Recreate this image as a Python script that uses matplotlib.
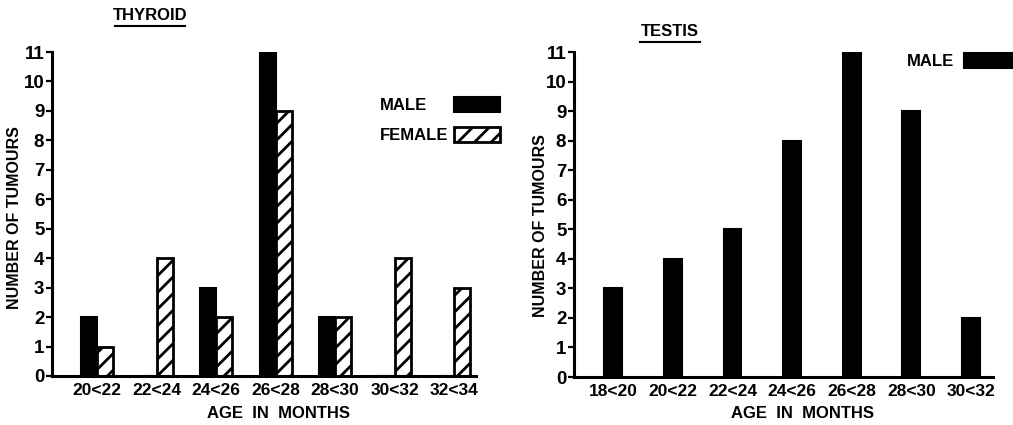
import matplotlib
matplotlib.use("Agg")
import matplotlib.pyplot as plt
from matplotlib.patches import Rectangle
from matplotlib.lines import Line2D
import numpy as np

# Tumour counts by age band
thyroid_ages = ["20<22", "22<24", "24<26", "26<28", "28<30", "30<32", "32<34"]
thyroid_male = [2, 0, 3, 11, 2, 0, 0]
thyroid_female = [1, 4, 2, 9, 2, 4, 3]

testis_ages = ["18<20", "20<22", "22<24", "24<26", "26<28", "28<30", "30<32"]
testis_male = [3, 4, 5, 8, 11, 9, 2]

y_ticks = list(range(0, 12))

W, H = 1013, 425
plt.rcParams["hatch.linewidth"] = 2.0
FONT = dict(family="Liberation Sans", fontweight="bold")

fig = plt.figure(figsize=(W / 100, H / 100), dpi=100)


def px_axes(x0, y0, x1, y1):
    """Axes from pixel box (left, top, right, bottom)."""
    return fig.add_axes([x0 / W, 1 - y1 / H, (x1 - x0) / W, (y1 - y0) / H])


def style_axes(ax, labels):
    ax.set_ylim(0, 11)
    ax.set_yticks(y_ticks)
    ax.set_yticklabels([str(v) for v in y_ticks], **FONT, fontsize=13.5)
    ax.set_xticks(np.arange(len(labels)))
    ax.set_xticklabels(labels, **FONT, fontsize=12.5)
    for s in ("top", "right"):
        ax.spines[s].set_visible(False)
    for s in ("left", "bottom"):
        ax.spines[s].set_linewidth(2.2)
    ax.tick_params(axis="y", direction="out", length=4, width=1.6, pad=1.5)
    ax.tick_params(axis="x", length=0, pad=5)


# ---- Thyroid ----
ax1 = px_axes(52, 52, 476, 376)
x = np.arange(len(thyroid_ages))
bw = 0.27
ax1.bar(x - bw / 2, thyroid_male, bw, color="black", edgecolor="black", linewidth=1.5)
ax1.bar(x + bw / 2, thyroid_female, bw, color="white", edgecolor="black",
        linewidth=2.0, hatch="//")
ax1.set_xlim(-0.76, 6.37)
style_axes(ax1, thyroid_ages)

# ---- Testis ----
ax2 = px_axes(574, 52, 993, 377)
x2 = np.arange(len(testis_ages))
ax2.bar(x2, testis_male, 0.3, color="black", edgecolor="black", linewidth=1.5)
ax2.set_xlim(-0.66, 6.37)
style_axes(ax2, testis_ages)


def ftext(px, py, s, **kw):
    opts = dict(FONT)
    opts.update(kw)
    return fig.text(px / W, 1 - py / H, s, **opts)


# Titles with underline
ftext(150, 16, "THYROID", fontsize=12, ha="center", va="center")
fig.add_artist(Line2D([115 / W, 185 / W], [1 - 26 / H, 1 - 26 / H], color="black", lw=1.5))
ftext(670, 31, "TESTIS", fontsize=12, ha="center", va="center")
fig.add_artist(Line2D([640 / W, 700 / W], [1 - 42 / H, 1 - 42 / H], color="black", lw=1.5))

# Axis labels
ftext(15, 218, "NUMBER OF TUMOURS", fontsize=11.5, rotation=90, ha="center", va="center")
ftext(540, 226, "NUMBER OF TUMOURS", fontsize=11.5, rotation=90, ha="center", va="center")
ftext(278, 414, "AGE  IN  MONTHS", fontsize=12, ha="center", va="center")
ftext(802, 414, "AGE  IN  MONTHS", fontsize=12, ha="center", va="center")

# Legends
ftext(380, 105, "MALE", fontsize=12, ha="left", va="center")
ftext(380, 136, "FEMALE", fontsize=12, ha="left", va="center")
fig.add_artist(Rectangle((454 / W, 1 - 112 / H), 46 / W, 15 / H, facecolor="black",
                         edgecolor="black", lw=1.5, transform=fig.transFigure))
fig.add_artist(Rectangle((454 / W, 1 - 142 / H), 46 / W, 15 / H, facecolor="white",
                         edgecolor="black", lw=2.0, hatch="//", transform=fig.transFigure))
ftext(907, 62, "MALE", fontsize=12, ha="left", va="center")
fig.add_artist(Rectangle((964 / W, 1 - 68 / H), 50 / W, 15 / H, facecolor="black",
                         edgecolor="black", lw=1.5, transform=fig.transFigure))

fig.savefig("out.png", dpi=100)
